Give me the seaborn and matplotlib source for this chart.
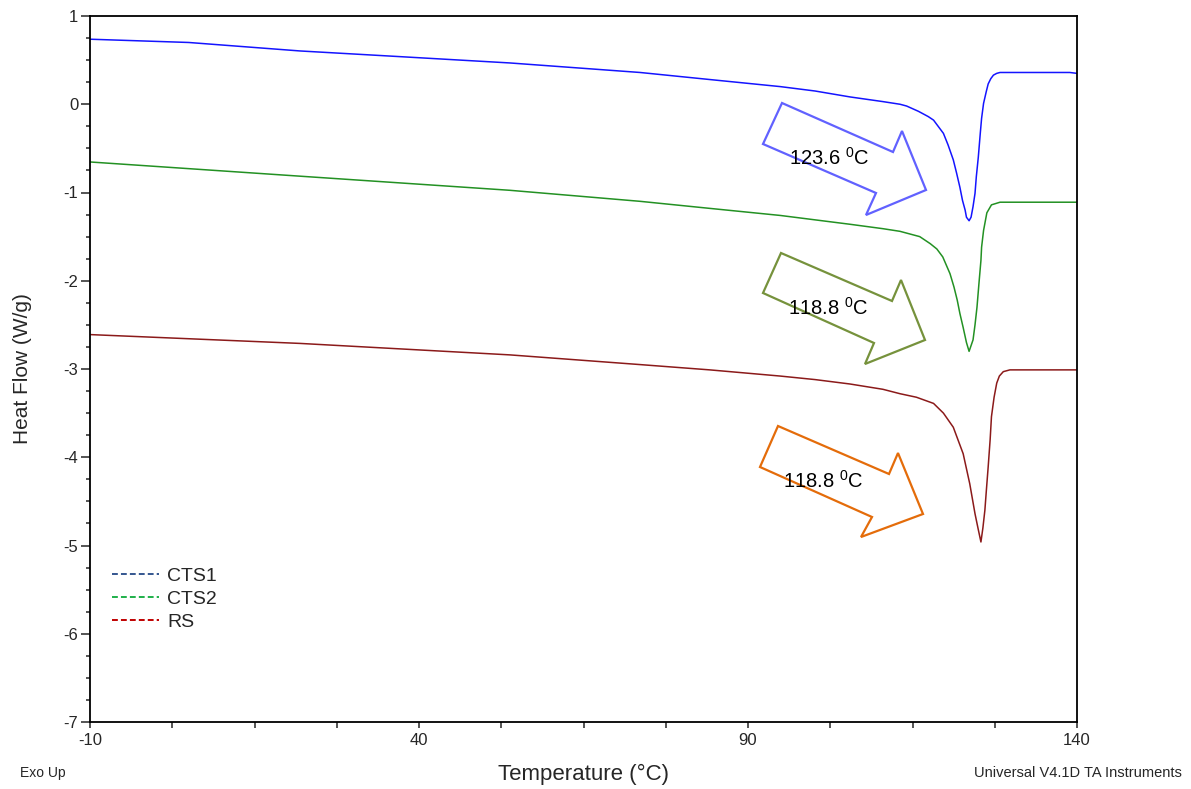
import numpy as np
import pandas as pd
import matplotlib
matplotlib.use("Agg")
import matplotlib.pyplot as plt
from matplotlib.lines import Line2D
from matplotlib.patches import Polygon
import seaborn as sns

# ---------------- data ----------------
cts1_temp = [-10, 5, 21.9, 37, 53.8, 73.6, 84.2, 94.9, 100.2, 105.5, 110.5, 113.1, 114.1,
             115.9, 117.4, 118.2, 118.9, 119.7, 120.4, 121.2, 121.7, 122.2, 122.6, 123.0,
             123.2, 123.6, 123.9, 124.2, 124.5, 124.7, 125.0, 125.3, 125.5, 125.8, 126.2,
             126.5, 126.9, 127.3, 127.8, 128.3, 138.9, 140]
cts1_flow = [0.737, 0.70, 0.604, 0.54, 0.468, 0.36, 0.28, 0.20, 0.15, 0.083, 0.03, 0.0, -0.02,
             -0.08, -0.14, -0.18, -0.25, -0.33, -0.46, -0.63, -0.78, -0.94, -1.09, -1.20,
             -1.28, -1.32, -1.28, -1.16, -1.01, -0.82, -0.60, -0.33, -0.16, 0.01, 0.14,
             0.23, 0.29, 0.33, 0.35, 0.36, 0.36, 0.35]

cts2_temp = [-10, 21.9, 53.8, 73.6, 84.2, 94.9, 100.2, 105.5, 110.5, 113.1, 114.1, 116.1,
             117.7, 118.7, 119.6, 120.7, 121.3, 121.8, 122.2, 122.7, 123.2, 123.6, 124.2,
             124.5, 124.8, 125.1, 125.4, 125.5, 125.8, 126.3, 127.0, 128.3, 140]
cts2_flow = [-0.654, -0.815, -0.975, -1.10, -1.18, -1.26, -1.31, -1.36, -1.41, -1.44, -1.46,
             -1.50, -1.58, -1.64, -1.73, -1.92, -2.07, -2.22, -2.37, -2.53, -2.70, -2.80,
             -2.67, -2.50, -2.30, -2.03, -1.77, -1.62, -1.43, -1.23, -1.14, -1.11, -1.11]

rs_temp = [-10, 21.9, 53.8, 73.6, 84.2, 94.9, 100.2, 105.5, 110.5, 113.1, 115.6, 118.2,
           119.7, 121.2, 122.7, 123.7, 124.1, 124.5, 125.0, 125.4, 125.7, 126.0, 126.2,
           126.5, 126.8, 127.0, 127.4, 127.8, 128.2, 128.8, 129.8, 140]
rs_flow = [-2.61, -2.71, -2.84, -2.95, -3.01, -3.08, -3.12, -3.17, -3.23, -3.28, -3.32, -3.39,
           -3.50, -3.66, -3.96, -4.30, -4.47, -4.64, -4.82, -4.96, -4.80, -4.60, -4.40,
           -4.11, -3.80, -3.54, -3.32, -3.16, -3.08, -3.03, -3.01, -3.01]

series_names = ["CTS1", "CTS2", "RS"]
peak_labels = ["123.6", "118.8", "118.8"]
x_ticks = [-10, 40, 90, 140]
y_ticks = [1, 0, -1, -2, -3, -4, -5, -6, -7]

df = pd.concat([
    pd.DataFrame({"Temperature": cts1_temp, "HeatFlow": cts1_flow, "Sample": "CTS1"}),
    pd.DataFrame({"Temperature": cts2_temp, "HeatFlow": cts2_flow, "Sample": "CTS2"}),
    pd.DataFrame({"Temperature": rs_temp, "HeatFlow": rs_flow, "Sample": "RS"}),
], ignore_index=True)

# ---------------- styling ----------------
sns.set_style("ticks")
plt.rcParams["font.family"] = ["Liberation Sans", "DejaVu Sans"]
plt.rcParams["axes.unicode_minus"] = False
plt.rcParams["mathtext.fontset"] = "custom"
plt.rcParams["mathtext.rm"] = "Liberation Sans"
plt.rcParams["mathtext.it"] = "Liberation Sans:italic"

W, H = 1191, 789
fig = plt.figure(figsize=(W / 100, H / 100), dpi=100)
ax = fig.add_axes([90 / W, 1 - 722 / H, 987 / W, 706 / H])

line_colors = {"CTS1": "#1414ff", "CTS2": "#239123", "RS": "#8b1a1a"}
sns.lineplot(data=df, x="Temperature", y="HeatFlow", hue="Sample", palette=line_colors,
             estimator=None, sort=False, legend=False, linewidth=1.1, ax=ax)

ax.set_xlim(-10, 140)
ax.set_ylim(-7, 1)
ax.set_xticks(x_ticks)
ax.set_xticklabels([str(v) for v in x_ticks])
ax.set_xticks(np.arange(-10, 140.1, 12.5), minor=True)
ax.set_yticks(y_ticks)
ax.set_yticklabels([str(v) for v in y_ticks])
ax.set_yticks(np.arange(-7, 1.01, 0.25), minor=True)

for s in ax.spines.values():
    s.set_visible(True)
    s.set_linewidth(1.3)
    s.set_color("black")

ax.tick_params(axis="y", which="major", length=6.5, width=1.1, pad=2, labelsize=12)
ax.tick_params(axis="y", which="minor", length=3, width=1.1)
ax.tick_params(axis="x", which="major", length=4, width=1.1, pad=4, labelsize=12)
ax.tick_params(axis="x", which="minor", length=4, width=1.1)

ax.set_xlabel("Temperature (°C)", fontsize=16)
ax.set_ylabel("Heat Flow (W/g)", fontsize=15)
ax.xaxis.set_label_coords(0.5, (722 - 764) / 706)
ax.yaxis.set_label_coords((32 - 90) / 987, 0.5)

# legend (dashed keys)
legend_colors = ["#34568f", "#1fb04a", "#c00000"]
handles = [Line2D([], [], color=c, linestyle=(0, (3, 1.6)), linewidth=1.4) for c in legend_colors]
leg = ax.legend(handles, series_names, loc="upper left",
                bbox_to_anchor=((112 - 90) / 987, (722 - 567) / 706),
                frameon=False, fontsize=14, handlelength=2.4, handletextpad=0.45,
                labelspacing=0.28, borderpad=0, borderaxespad=0)


# ---------------- arrow call-outs ----------------
def fig_pt(x, y):
    return (x / W, 1 - y / H)


arrow_shapes = [
    ([(782, 103), (893, 152), (902, 131), (926, 190), (866, 215), (876, 193), (763, 144)], "#6161ff"),
    ([(781, 253), (892, 301), (901, 280), (925, 340), (865, 364), (874, 343), (763, 293)], "#76923c"),
    ([(778, 426), (889, 474), (898, 453), (923, 514), (861, 537), (872, 517), (760, 467)], "#e46c0a"),
]
for verts, col in arrow_shapes:
    poly = Polygon([fig_pt(x, y) for x, y in verts], closed=True, fill=False,
                   edgecolor=col, linewidth=1.6, transform=fig.transFigure, joinstyle="miter")
    fig.add_artist(poly)

text_pos = [(789, 165), (788, 315), (783, 488)]
for (tx, ty), lab in zip(text_pos, peak_labels):
    fig.text(tx / W, 1 - ty / H, lab + r" $^{\mathrm{0}}$C", fontsize=14.5,
             ha="left", va="baseline", color="black")

# ---------------- footer texts ----------------
fig.text(20 / W, 1 - 773 / H, "Exo Up", fontsize=10, ha="left", va="center")
fig.text(1182 / W, 1 - 773 / H, "Universal V4.1D TA Instruments", fontsize=10.5,
         ha="right", va="center")

fig.savefig("out.png", dpi=100)
